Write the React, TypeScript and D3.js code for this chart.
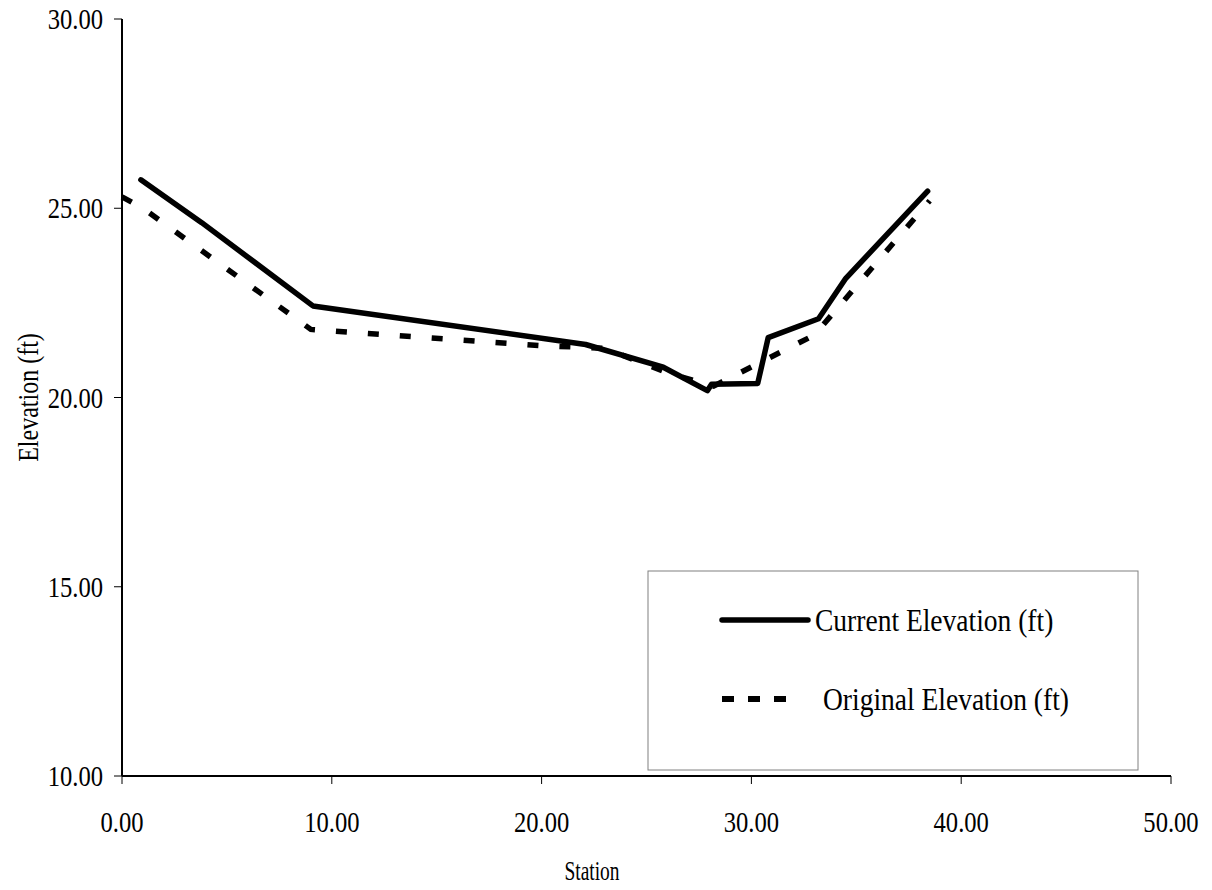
import React from "react";
import * as d3 from "d3";

// channel cross-section survey
const currentStation = [0.9, 3.8, 9.1, 22.1, 25.8, 27.9, 28.1, 30.3, 30.8, 33.2, 34.5, 38.4];
const currentElevation = [25.75, 24.62, 22.42, 21.4, 20.8, 20.18, 20.35, 20.37, 21.58, 22.08, 23.15, 25.45];
const originalStation = [0, 1.0, 9.0, 20.0, 23.0, 26.0, 28.2, 33.0, 38.5];
const originalElevation = [25.3, 25.0, 21.8, 21.37, 21.3, 20.65, 20.3, 21.65, 25.2];
const xTicks = [0, 10, 20, 30, 40, 50];
const yTicks = [10, 15, 20, 25, 30];
const legendLabels = ["Current Elevation (ft)", "Original Elevation (ft)"];

const FONT = "'Liberation Serif', 'Times New Roman', serif";
const SX = 0.82; // the source image is squeezed horizontally

export default function App() {
  const width = 1212;
  const height = 890;
  const left = 122, right = 1171, top = 19, bottom = 776;

  const x = d3.scaleLinear().domain([0, 50]).range([left, right]);
  const y = d3.scaleLinear().domain([10, 30]).range([bottom, top]);
  const fmt = d3.format(".2f");

  const line = d3
    .line<[number, number]>()
    .x((d) => x(d[0]))
    .y((d) => y(d[1]));

  const current = currentStation.map((s, i) => [s, currentElevation[i]] as [number, number]);
  const original = originalStation.map((s, i) => [s, originalElevation[i]] as [number, number]);

  const lg = { x: 648, y: 571, w: 490, h: 199 };

  return (
    <svg
      width={width}
      height={height}
      style={{ position: "absolute", left: 0, top: 0, background: "#fff" }}
      fontFamily={FONT}
    >
      {/* y axis */}
      <line x1={left} x2={left} y1={top} y2={bottom} stroke="#000" strokeWidth={2} />
      {yTicks.map((t) => (
        <g key={"y" + t}>
          <line x1={left - 8} x2={left} y1={y(t)} y2={y(t)} stroke="#000" strokeWidth={1} />
          <text
            transform={`translate(${left - 19},${y(t) + 10}) scale(${SX},1)`}
            textAnchor="end"
            fontSize={30}
            fill="#000"
          >
            {fmt(t)}
          </text>
        </g>
      ))}
      {/* x axis */}
      <line x1={left} x2={right} y1={bottom} y2={bottom} stroke="#000" strokeWidth={2} />
      {xTicks.map((t) => (
        <g key={"x" + t}>
          <line x1={x(t)} x2={x(t)} y1={bottom} y2={bottom + 8} stroke="#000" strokeWidth={1} />
          <text
            transform={`translate(${x(t)},${bottom + 56}) scale(${SX},1)`}
            textAnchor="middle"
            fontSize={30}
            fill="#000"
          >
            {fmt(t)}
          </text>
        </g>
      ))}

      {/* axis titles */}
      <text
        transform={`translate(592,880) scale(0.72,1)`}
        textAnchor="middle"
        fontSize={27}
        fill="#000"
      >
        Station
      </text>
      <text
        transform={`translate(38,${(top + bottom) / 2}) rotate(-90) scale(1,1.2)`}
        textAnchor="middle"
        fontSize={24}
        fill="#000"
      >
        Elevation (ft)
      </text>

      {/* series */}
      <path d={line(original) || ""} fill="none" stroke="#000" strokeWidth={5.5} strokeDasharray="11 21" />
      <path d={line(current) || ""} fill="none" stroke="#000" strokeWidth={5.5} strokeLinejoin="round" strokeLinecap="round" />

      {/* legend */}
      <rect x={lg.x} y={lg.y} width={lg.w} height={lg.h} fill="#fff" stroke="#808080" strokeWidth={1} />
      <line x1={722} x2={808} y1={620} y2={620} stroke="#000" strokeWidth={5.5} strokeLinecap="round" />
      <text transform={`translate(815,631) scale(0.86,1)`} fontSize={32} fill="#000">
        {legendLabels[0]}
      </text>
      <line x1={722} x2={797} y1={699} y2={699} stroke="#000" strokeWidth={6} strokeDasharray="12 14" />
      <text transform={`translate(823,710) scale(0.86,1)`} fontSize={32} fill="#000">
        {legendLabels[1]}
      </text>
    </svg>
  );
}
